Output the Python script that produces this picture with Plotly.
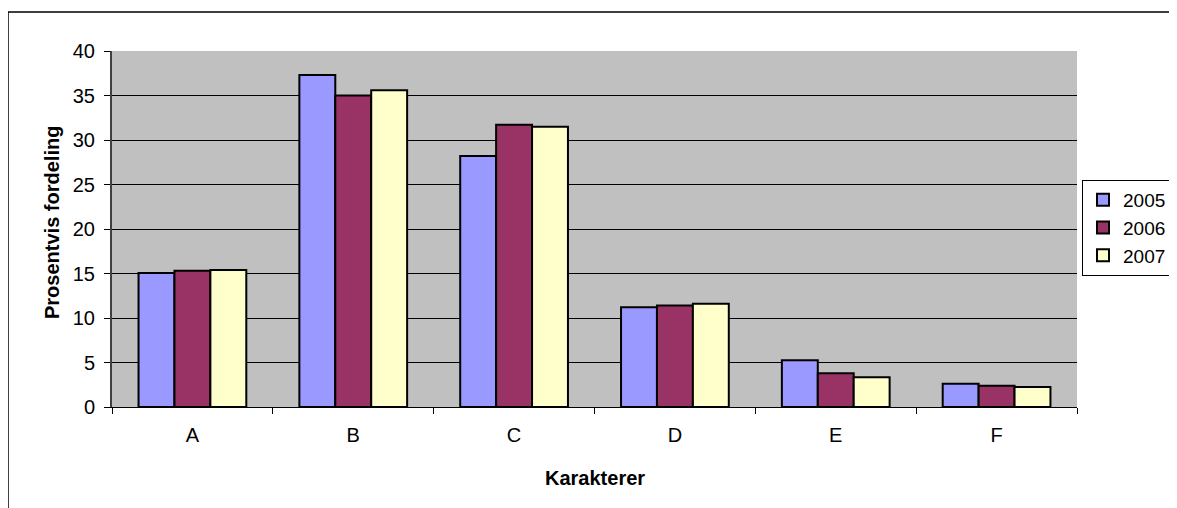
import plotly.graph_objects as go

categories = ["A", "B", "C", "D", "E", "F"]
years = ["2005", "2006", "2007"]
v2005 = [15.05, 37.3, 28.2, 11.2, 5.25, 2.6]
v2006 = [15.3, 35.0, 31.7, 11.4, 3.8, 2.4]
v2007 = [15.4, 35.6, 31.5, 11.6, 3.35, 2.25]
colors = ["#9999FF", "#993366", "#FFFFCC"]

# page has an 8px body margin; figure origin sits at page (8, 8)
OFF = 8
W, H = 1177 - OFF, 508 - OFF
PL, PR, PT, PB = 112, 1077, 51, 407  # plot area in page pixels
ml, mr, mt, mb = PL - OFF, W - (PR - OFF), PT - OFF, H - (PB - OFF)
pw, ph = PR - PL, PB - PT


def px_x(x):
    return (x - PL) / pw


def px_y(y):
    return (PB - y) / ph


fig = go.Figure()
for name, vals, col in zip(years, [v2005, v2006, v2007], colors):
    fig.add_trace(go.Bar(x=categories, y=vals, name=name,
                         marker=dict(color=col, line=dict(color="black", width=2))))

font = "Liberation Sans, Arial, sans-serif"
fig.update_layout(
    width=W, height=H,
    margin=dict(l=ml, r=mr, t=mt, b=mb, pad=0, autoexpand=False),
    paper_bgcolor="white", plot_bgcolor="#C0C0C0",
    barmode="group", bargap=0.33, bargroupgap=0,
    font=dict(family=font, size=20, color="black"),
    showlegend=True,
    legend=dict(xref="container", yref="container",
                x=(1082 - OFF) / W, y=(H - (228 - OFF)) / H,
                xanchor="left", yanchor="middle",
                bordercolor="black", borderwidth=1, bgcolor="white",
                font=dict(size=19, family=font), tracegroupgap=0),
    xaxis=dict(showgrid=False, ticks="outside", tickson="boundaries", ticklen=6,
               tickcolor="black", showline=True, linecolor="black", linewidth=1,
               tickfont=dict(size=20), ticklabelstandoff=10, automargin=False),
    yaxis=dict(range=[0, 40], dtick=5, showgrid=True, gridcolor="black", gridwidth=1,
               ticks="outside", ticklen=6, tickcolor="black", showline=True,
               linecolor="#404040", linewidth=2, tickfont=dict(size=20),
               ticklabelstandoff=5, zeroline=False, automargin=False),
    annotations=[
        dict(text="<b>Karakterer</b>", x=0.5, y=px_y(478), xref="paper", yref="paper",
             xanchor="center", yanchor="middle",
             showarrow=False, font=dict(size=20, family=font)),
        dict(text="<b>Prosentvis fordeling</b>", textangle=-90, x=px_x(52), y=px_y(223),
             xref="paper", yref="paper", xanchor="center", yanchor="middle",
             showarrow=False, font=dict(size=20, family=font)),
    ],
    shapes=[dict(type="rect", xref="paper", yref="paper",
                 x0=px_x(8), x1=1.3, y0=-0.5, y1=px_y(12),
                 line=dict(color="black", width=1.5), layer="below")],
)
fig.write_html("out.html")
